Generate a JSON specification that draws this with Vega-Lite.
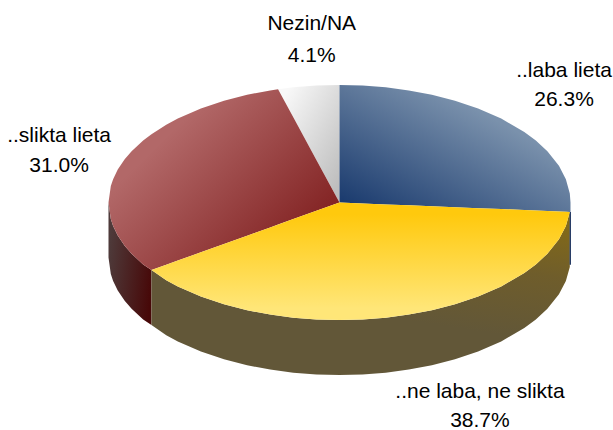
{
"$schema":"https://vega.github.io/schema/vega-lite/v6.json",
"width":613,"height":430,"padding":0,"autosize":{"type":"none"},
"background":"white","config":{"view":{"stroke":null}},
"datasets":{
"redSide":[{"x":-100,"y":0,"y2":-46.8},{"x":-99,"y":-14.1,"y2":-60.9},{"x":-98,"y":-19.9,"y2":-66.7},{"x":-96,"y":-28,"y2":-74.8},{"x":-93,"y":-36.8,"y2":-83.6},{"x":-90,"y":-43.6,"y2":-90.4},{"x":-85,"y":-52.7,"y2":-99.5},{"x":-81.4,"y":-57.5,"y2":-104.3}],
"yellowSide":[{"x":-81.4,"y":-57.5,"y2":-104.3},{"x":-75,"y":-66.1,"y2":-112.9},{"x":-70,"y":-71.4,"y2":-118.2},{"x":-60,"y":-80,"y2":-126.8},{"x":-50,"y":-86.6,"y2":-133.4},{"x":-40,"y":-91.7,"y2":-138.5},{"x":-30,"y":-95.4,"y2":-142.2},{"x":-20,"y":-98,"y2":-144.8},{"x":-10,"y":-99.5,"y2":-146.3},{"x":0,"y":-100,"y2":-146.8},{"x":10,"y":-99.5,"y2":-146.3},{"x":20,"y":-98,"y2":-144.8},{"x":30,"y":-95.4,"y2":-142.2},{"x":40,"y":-91.7,"y2":-138.5},{"x":50,"y":-86.6,"y2":-133.4},{"x":60,"y":-80,"y2":-126.8},{"x":70,"y":-71.4,"y2":-118.2},{"x":80,"y":-60,"y2":-106.8},{"x":85,"y":-52.7,"y2":-99.5},{"x":90,"y":-43.6,"y2":-90.4},{"x":95,"y":-31.2,"y2":-78},{"x":98,"y":-19.9,"y2":-66.7},{"x":99.7,"y":-8,"y2":-54.8}],
"blueSide":[{"x":99.6,"y":-8,"y2":-53},{"x":100.2,"y":-8,"y2":-53}],
"grey":[{"x":-26.6,"y":96.4,"y2":96.4},{"x":-20,"y":98,"y2":72.5},{"x":-10,"y":99.5,"y2":36.2},{"x":0,"y":100,"y2":0}],
"red":[{"x":-100,"y":0,"y2":0},{"x":-99,"y":14.1,"y2":-14.1},{"x":-98,"y":19.9,"y2":-19.9},{"x":-96,"y":28,"y2":-28},{"x":-93,"y":36.8,"y2":-36.8},{"x":-90,"y":43.6,"y2":-43.6},{"x":-85,"y":52.7,"y2":-52.7},{"x":-81.4,"y":58.1,"y2":-57.5},{"x":-75,"y":66.1,"y2":-53},{"x":-70,"y":71.4,"y2":-49.4},{"x":-60,"y":80,"y2":-42.4},{"x":-50,"y":86.6,"y2":-35.3},{"x":-40,"y":91.7,"y2":-28.2},{"x":-30,"y":95.4,"y2":-21.2},{"x":-26.6,"y":96.4,"y2":-18.8},{"x":-20,"y":72.5,"y2":-14.1},{"x":-10,"y":36.2,"y2":-7.1},{"x":0,"y":0,"y2":0}],
"blue":[{"x":0,"y":100,"y2":0},{"x":10,"y":99.5,"y2":-0.8},{"x":20,"y":98,"y2":-1.6},{"x":30,"y":95.4,"y2":-2.4},{"x":40,"y":91.7,"y2":-3.2},{"x":50,"y":86.6,"y2":-4},{"x":60,"y":80,"y2":-4.8},{"x":70,"y":71.4,"y2":-5.6},{"x":80,"y":60,"y2":-6.4},{"x":85,"y":52.7,"y2":-6.8},{"x":90,"y":43.6,"y2":-7.2},{"x":95,"y":31.2,"y2":-7.6},{"x":98,"y":19.9,"y2":-7.8},{"x":99.7,"y":7.7,"y2":-8},{"x":100,"y":0,"y2":-8}],
"yellow":[{"x":-81.4,"y":-57.5,"y2":-57.5},{"x":-75,"y":-53,"y2":-66.1},{"x":-70,"y":-49.4,"y2":-71.4},{"x":-60,"y":-42.4,"y2":-80},{"x":-50,"y":-35.3,"y2":-86.6},{"x":-40,"y":-28.2,"y2":-91.7},{"x":-30,"y":-21.2,"y2":-95.4},{"x":-20,"y":-14.1,"y2":-98},{"x":-10,"y":-7.1,"y2":-99.5},{"x":0,"y":0,"y2":-100},{"x":10,"y":-0.8,"y2":-99.5},{"x":20,"y":-1.6,"y2":-98},{"x":30,"y":-2.4,"y2":-95.4},{"x":40,"y":-3.2,"y2":-91.7},{"x":50,"y":-4,"y2":-86.6},{"x":60,"y":-4.8,"y2":-80},{"x":70,"y":-5.6,"y2":-71.4},{"x":80,"y":-6.4,"y2":-60},{"x":85,"y":-6.8,"y2":-52.7},{"x":90,"y":-7.2,"y2":-43.6},{"x":95,"y":-7.6,"y2":-31.2},{"x":98,"y":-7.8,"y2":-19.9},{"x":99.7,"y":-8,"y2":-8}],
"labels":[{"x":-12,"y":151.9,"t":"Nezin/NA"},{"x":-12,"y":124.7,"t":"4.1%"},{"x":97.2,"y":111.9,"t":"..laba lieta"},{"x":97.2,"y":87.2,"t":"26.3%"},{"x":-121.4,"y":56.6,"t":"..slikta lieta"},{"x":-121.4,"y":31.1,"t":"31.0%"},{"x":60.8,"y":-161.3,"t":"..ne laba, ne slikta"},{"x":60.8,"y":-185.9,"t":"38.7%"}]
},
"encoding":{
"x":{"field":"x","type":"quantitative","axis":null,"scale":{"domain":[-146.97,118.4],"nice":false,"zero":false}},
"y":{"field":"y","type":"quantitative","axis":null,"scale":{"domain":[-193.6,172.34],"nice":false,"zero":false}}
},
"layer":[
{"data":{"name":"redSide"},"mark":{"type":"area","fill":{"gradient":"linear","x1":0,"y1":0.4,"x2":1,"y2":0.7,"stops":[{"offset":0,"color":"#4e3a3a"},{"offset":1,"color":"#470808"}]}},"encoding":{"y2":{"field":"y2"}}},
{"data":{"name":"yellowSide"},"mark":{"type":"area","fill":{"gradient":"linear","x1":0.98,"y1":0,"x2":0.7,"y2":0.7,"stops":[{"offset":0,"color":"#876c14"},{"offset":0.5,"color":"#6f5d2b"},{"offset":1,"color":"#625738"}]}},"encoding":{"y2":{"field":"y2"}}},
{"data":{"name":"blueSide"},"mark":{"type":"area","fill":"#1f3560"},"encoding":{"y2":{"field":"y2"}}},
{"data":{"name":"grey"},"mark":{"type":"area","fill":{"gradient":"linear","x1":0.1,"y1":0.1,"x2":0.9,"y2":0.95,"stops":[{"offset":0,"color":"#f8f8f8"},{"offset":1,"color":"#bdbdbd"}]}},"encoding":{"y2":{"field":"y2"}}},
{"data":{"name":"red"},"mark":{"type":"area","fill":{"gradient":"linear","x1":0.92,"y1":0.7,"x2":0.3,"y2":0.2,"stops":[{"offset":0,"color":"#842525"},{"offset":1,"color":"#b26868"}]}},"encoding":{"y2":{"field":"y2"}}},
{"data":{"name":"blue"},"mark":{"type":"area","fill":{"gradient":"linear","x1":0,"y1":1,"x2":0.7,"y2":0.3,"stops":[{"offset":0,"color":"#14356a"},{"offset":1,"color":"#7a91ac"}]}},"encoding":{"y2":{"field":"y2"}}},
{"data":{"name":"yellow"},"mark":{"type":"area","fill":{"gradient":"linear","x1":0,"y1":0.1,"x2":0,"y2":0.9,"stops":[{"offset":0,"color":"#ffc90d"},{"offset":1,"color":"#ffe678"}]}},"encoding":{"y2":{"field":"y2"}}},
{"data":{"name":"labels"},"mark":{"type":"text","font":"Liberation Sans","fontSize":21,"color":"black","align":"center","baseline":"middle"},"encoding":{"text":{"field":"t"}}}
]
}
